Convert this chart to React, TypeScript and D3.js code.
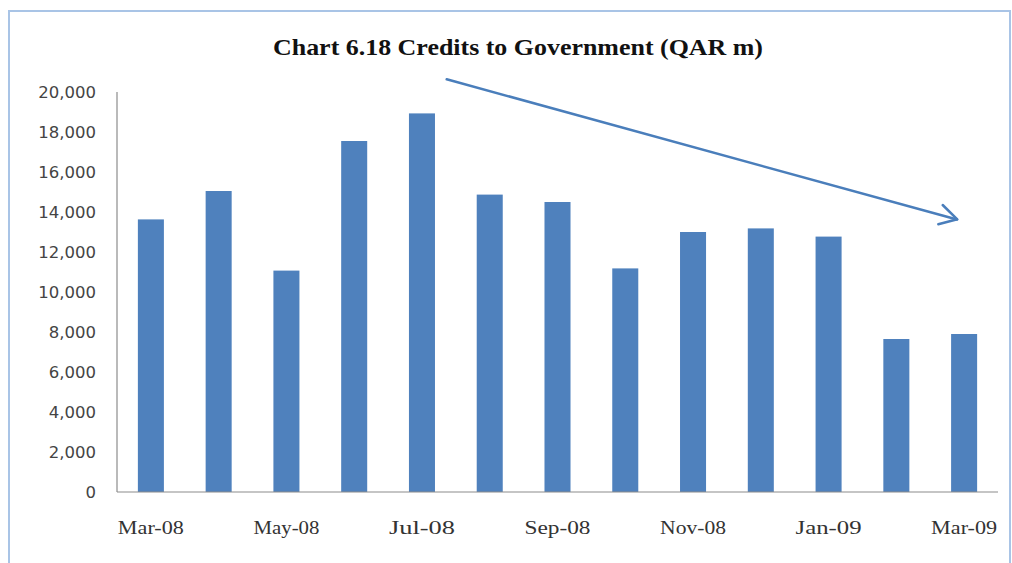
import React from "react";
import * as d3 from "d3";

const categories = ["Mar-08","Apr-08","May-08","Jun-08","Jul-08","Aug-08","Sep-08","Oct-08","Nov-08","Dec-08","Jan-09","Feb-09","Mar-09"];
const values = [13630, 15050, 11070, 17550, 18930, 14870, 14500, 11180, 13000, 13180, 12770, 7650, 7900];
const yTicks = [0, 2000, 4000, 6000, 8000, 10000, 12000, 14000, 16000, 18000, 20000];
const xLabelIdx = [0, 2, 4, 6, 8, 10, 12];
const title = "Chart 6.18 Credits to Government (QAR m)";

export default function App() {
  const W = 1012, H = 563;
  const left = 117, right = 998, top = 92, bottom = 492;
  const gap = 0.616;
  const x = d3.scaleBand<string>().domain(categories).range([left, right]).paddingInner(gap).paddingOuter(gap / 2);
  const y = d3.scaleLinear().domain([0, 20000]).range([bottom, top]);
  const fmt = d3.format(",");
  const blue = "#4f81bd";
  const arrow = "#4a7ebb";
  return (
    <svg width={W} height={H} style={{ position: "absolute", left: 0, top: 0, background: "#fff" }}>
      <rect x={0} y={0} width={W} height={H} fill="#fff" />
      <path d={`M9,${H} V11 H1010 V${H}`} fill="none" stroke="#a9c4e6" strokeWidth={2} />
      <text x={518} y={55} textAnchor="middle" fontFamily="Liberation Serif, Times New Roman, serif" fontWeight="bold" fontSize={24} fill="#111" textLength={490} lengthAdjust="spacingAndGlyphs">{title}</text>
      {values.map((v, i) => (
        <rect key={i} x={x(categories[i])} y={y(v)} width={x.bandwidth()} height={bottom - y(v)} fill={blue} />
      ))}
      <line x1={left} y1={top} x2={left} y2={bottom} stroke="#8c8c8c" strokeWidth={1.2} />
      <line x1={left} y1={bottom} x2={right} y2={bottom} stroke="#8c8c8c" strokeWidth={1.2} />
      {yTicks.map((t) => (
        <text key={t} x={96} y={y(t)} dy="0.36em" textAnchor="end" fontFamily="DejaVu Sans, sans-serif" fontSize={16.5} fill="#444">{fmt(t)}</text>
      ))}
      {xLabelIdx.map((i) => (
        <text key={i} x={(x(categories[i]) as number) + x.bandwidth() / 2} y={534} textAnchor="middle" fontFamily="Liberation Serif, Times New Roman, serif" fontSize={19} fill="#333" textLength={66} lengthAdjust="spacingAndGlyphs">{categories[i]}</text>
      ))}
      <line x1={446.7} y1={79.3} x2={957} y2={219.5} stroke={arrow} strokeWidth={2.5} strokeLinecap="round" />
      <polyline points="942.7,205 957.3,219.3 938.3,224.3" fill="none" stroke={arrow} strokeWidth={2.5} strokeLinecap="round" strokeLinejoin="round" />
    </svg>
  );
}
